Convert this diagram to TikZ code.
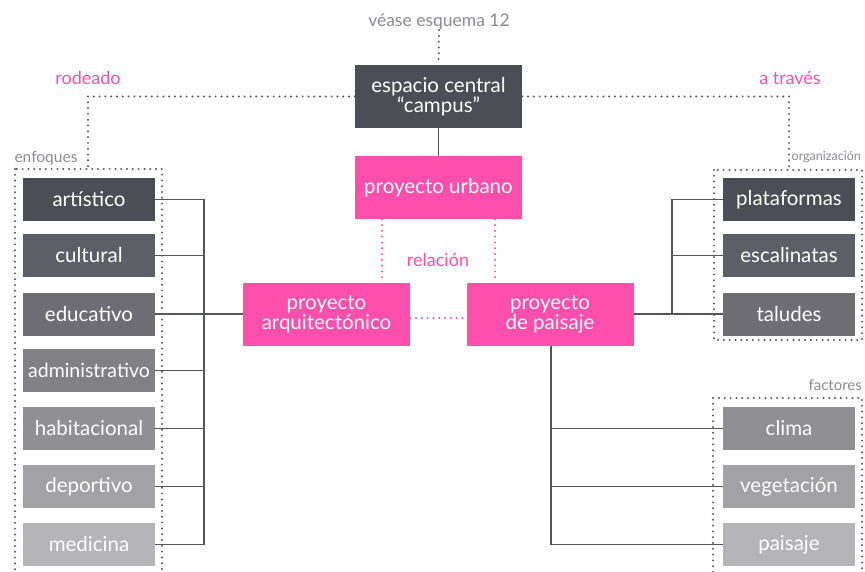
\documentclass[tikz,border=0pt]{standalone}
\usepackage{fontspec}
\setmainfont{Lato}
\definecolor{tonoA}{HTML}{4D4D55}
\definecolor{tonoB}{HTML}{5E5E66}
\definecolor{tonoC}{HTML}{6D6D73}
\definecolor{tonoD}{HTML}{808085}
\definecolor{tonoE}{HTML}{8F8F94}
\definecolor{tonoF}{HTML}{A2A2A6}
\definecolor{tonoG}{HTML}{B5B5B8}
\definecolor{rosa}{HTML}{FF4FAD}
\definecolor{gristexto}{HTML}{8A8A8F}
\definecolor{grislinea}{HTML}{55555C}
\tikzset{
  caja/.style={fill=#1, text=white, minimum width=132pt, minimum height=43pt,
    inner sep=0pt, font=\fontsize{20.5}{22}\selectfont},
  grande/.style={fill=#1, text=white, minimum width=167pt, minimum height=63pt,
    inner sep=0pt, align=center, font=\fontsize{20.5}{20}\selectfont},
  linea/.style={grislinea, line width=1.4pt},
  puntos/.style={grislinea, line width=2.2pt, line cap=round, dash pattern=on 0pt off 5.8pt},
  puntosrosa/.style={rosa, line width=2.2pt, line cap=round, dash pattern=on 0pt off 5.8pt},
  rotulo/.style={gristexto, inner sep=0pt, font=\fontsize{#1}{#1}\selectfont},
  rotulorosa/.style={rosa, inner sep=0pt, font=\fontsize{18}{18}\selectfont}
}

\begin{document}
\begin{tikzpicture}[x=1pt, y=-1pt]
   \useasboundingbox (0,0) rectangle (865,572);
   % centro
   \node[rotulo=17.5] (vease) at (439,22) {véase esquema 12};
   \node[grande=tonoA] (campus) at (438.5,96.5) {espacio central\\“campus”};
   \node[grande=rosa] (urbano) at (438.5,187.5) {proyecto urbano};
   \node[grande=rosa] (arq) at (326.5,314) {proyecto\\arquitectónico};
   \node[grande=rosa] (paisajeP) at (550,314) {proyecto\\de paisaje};
   \node[rotulorosa] (rodeado) at (88,78) {rodeado};
   \node[rotulorosa] (atraves) at (790,78) {a través};
   \node[rotulorosa] (relacion) at (438,260) {relación};
   \draw[puntos] (vease.south) -- (campus.north);
   \draw[linea] (campus.south) -- (urbano.north);
   \draw[puntosrosa] ([xshift=-56.5pt]urbano.south) -- ([xshift=-56.5pt]urbano.south |- arq.north);
   \draw[puntosrosa] ([xshift=56.5pt]urbano.south) -- ([xshift=56.5pt]urbano.south |- paisajeP.north);
   \draw[puntosrosa] ([yshift=-4pt]arq.east) -- ([yshift=-4pt]paisajeP.west);

   % enfoques
   \begin{scope}
    \draw[puntos] (15,169) rectangle (162,600);
    \coordinate (enfoquesTop) at (88,169);
    \coordinate (barraIz) at (204,0);
    \node[rotulo=15.5] (enfoques) at (46,158) {enfoques};
    \node[caja=tonoA] (artistico) at (89,199.5) {artístico};
    \node[caja=tonoB] (cultural) at (89,255.5) {cultural};
    \node[caja=tonoC] (educativo) at (89,314) {educativo};
    \node[caja=tonoD, font=\fontsize{19.5}{22}\selectfont] (administrativo) at (89,370.5) {administrativo};
    \node[caja=tonoE] (habitacional) at (89,428.5) {habitacional};
    \node[caja=tonoF] (deportivo) at (89,486.5) {deportivo};
    \node[caja=tonoG] (medicina) at (89,544.5) {medicina};
    \draw[puntos] (campus.west) -| (enfoquesTop);
    \draw[linea] (artistico.east -| barraIz) -- (medicina.east -| barraIz);
    \draw[linea] (artistico.east) -- (artistico.east -| barraIz);
    \draw[linea] (cultural.east) -- (cultural.east -| barraIz);
    \draw[linea] (educativo.east) -- (arq.west);
    \draw[linea] (administrativo.east) -- (administrativo.east -| barraIz);
    \draw[linea] (habitacional.east) -- (habitacional.east -| barraIz);
    \draw[linea] (deportivo.east) -- (deportivo.east -| barraIz);
    \draw[linea] (medicina.east) -- (medicina.east -| barraIz);
   \end{scope}

   % organizacion
   \begin{scope}
    \draw[puntos] (714,170) rectangle (862,340);
    \coordinate (organizTop) at (789,170);
    \coordinate (barraDe) at (672,0);
    \node[rotulo=12.5, anchor=east] (organizacion) at (861,157) {organización};
    \node[caja=tonoA] (plataformas) at (789,199.5) {plataformas};
    \node[caja=tonoB] (escalinatas) at (789,255.5) {escalinatas};
    \node[caja=tonoC] (taludes) at (789,314) {taludes};
    \draw[puntos] (campus.east) -| (organizTop);
    \draw[linea] (plataformas.west -| barraDe) -- (taludes.west -| barraDe);
    \draw[linea] (paisajeP.east) -- (taludes.west);
    \draw[linea] (plataformas.west -| barraDe) -- (plataformas.west);
    \draw[linea] (escalinatas.west -| barraDe) -- (escalinatas.west);
   \end{scope}

   % factores
   \begin{scope}
    \draw[puntos] (713,398) rectangle (862,600);
    \coordinate (barraPa) at (551,0);
    \node[rotulo=15, anchor=east] (factores) at (862,385) {factores};
    \node[caja=tonoE] (clima) at (789,428.5) {clima};
    \node[caja=tonoF] (vegetacion) at (789,486.5) {vegetación};
    \node[caja=tonoG] (paisaje) at (789,544.5) {paisaje};
    \draw[linea] (paisajeP.south -| barraPa) -- (paisaje.west -| barraPa);
    \draw[linea] (clima.west -| barraPa) -- (clima.west);
    \draw[linea] (vegetacion.west -| barraPa) -- (vegetacion.west);
    \draw[linea] (paisaje.west -| barraPa) -- (paisaje.west);
   \end{scope}
  \end{tikzpicture}
\end{document}
